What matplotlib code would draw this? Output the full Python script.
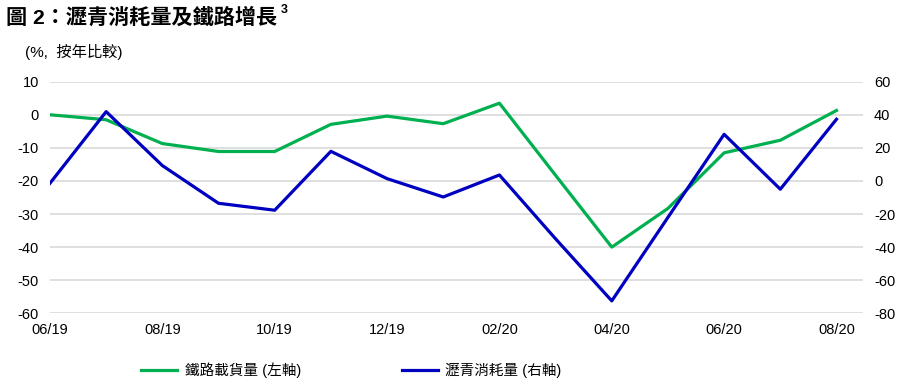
import matplotlib
matplotlib.use("Agg")
import matplotlib.pyplot as plt
from matplotlib.lines import Line2D

plt.rcParams['font.family'] = ['Liberation Sans', 'Noto Sans CJK TC', 'DejaVu Sans']
plt.rcParams['axes.unicode_minus'] = False

# data, monthly 06/19 .. 08/20
months = ["06/19", "07/19", "08/19", "09/19", "10/19", "11/19", "12/19", "01/20",
          "02/20", "03/20", "04/20", "05/20", "06/20", "07/20", "08/20"]
rail = [0, -1.5, -8.7, -11.1, -11.1, -2.9, -0.4, -2.7, 3.5, -18.3, -40, -28.3, -11.5, -7.7, 1.3]
asphalt = [-1.4, 41.9, 9.3, -13.5, -17.7, 17.9, 1.4, -9.7, 3.6, -35, -72.5, -22, 28.2, -5, 37.3]
left_ticks = [10, 0, -10, -20, -30, -40, -50, -60]
right_ticks = [60, 40, 20, 0, -20, -40, -60, -80]

green = "#00b050"
blue = "#0000c0"
grid = "#d9d9d9"

fig = plt.figure(figsize=(9.17, 3.92), dpi=100)
ax = fig.add_axes([0.0545, 0.2008, 0.8865, 0.5908])
ax2 = ax.twinx()

x = list(range(len(months)))
ax.plot(x, rail, color=green, lw=2.3, zorder=3)
ax2.plot(x, asphalt, color=blue, lw=2.3, zorder=3)

ax.set_ylim(-60, 10)
ax2.set_ylim(-80, 60)
ax.set_xlim(0, 14.47)
ax.set_yticks(left_ticks)
ax2.set_yticks(right_ticks)
ax.set_xticks(x[::2])
ax.set_xticklabels(months[::2])

for a in (ax, ax2):
    for s in a.spines.values():
        s.set_visible(False)
    a.tick_params(length=0, labelsize=10.5, colors="#000000")
ax.tick_params(axis="x", pad=7)
ax.tick_params(axis="y", pad=8)
ax2.tick_params(axis="y", pad=8)
ax.yaxis.grid(True, color=grid, lw=1.2)
ax.set_axisbelow(True)

fig.text(0.006, 0.955, "圖 2：瀝青消耗量及鐵路增長", fontsize=15.2, fontweight="bold", va="center")
fig.text(0.306, 0.974, "3", fontsize=9, fontweight="bold", va="center")
fig.text(0.027, 0.868, "(%,  按年比較)", fontsize=11, va="center")

handles = [Line2D([], [], color=green, lw=2.3), Line2D([], [], color=blue, lw=2.3)]
fig.legend(handles, ["鐵路載貨量 (左軸)", "瀝青消耗量 (右軸)"], loc="center",
           bbox_to_anchor=(0.383, 0.056), ncol=2, frameon=False, fontsize=10.5,
           handlelength=2.5, columnspacing=6.9, handletextpad=0.5)

fig.savefig("out.png", dpi=100)
